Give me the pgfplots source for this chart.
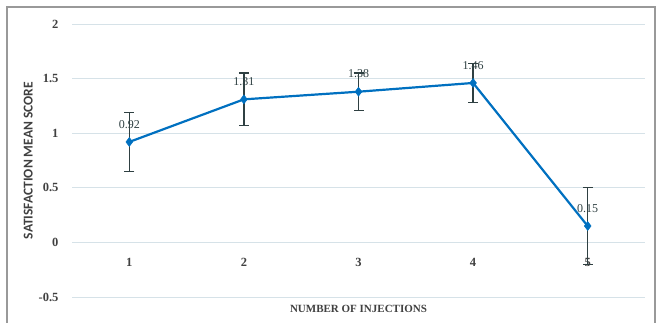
\documentclass[border=0pt]{standalone}
\usepackage{fontspec}
\setmainfont{Liberation Serif}
\newfontfamily\ylabfont{Carlito}
\usepackage{pgfplots}
\pgfplotsset{compat=1.18}
\definecolor{lineblue}{RGB}{0,112,192}
\definecolor{errgray}{RGB}{47,64,66}
\definecolor{gridc}{RGB}{214,226,232}
\definecolor{txt}{RGB}{64,64,64}
\begin{document}
\begin{tikzpicture}
\begin{axis}[
  at={(72pt,26pt)}, anchor=south west,
  scale only axis, width=573pt, height=273pt,
  xmin=0.5, xmax=5.5, ymin=-0.5, ymax=2,
  axis line style={draw=none},
  ytick={-0.5,0,0.5,1,1.5,2},
  yticklabels={-0.5,0,0.5,1,1.5,2},
  xtick={1,2,3,4,5},
  xticklabels={1,2,3,4,5},
  major tick length=0pt,
  ymajorgrids, grid style={gridc, line width=0.9pt},
  tick label style={font=\fontsize{12.5}{13}\selectfont\bfseries, text=txt},
  xticklabel style={yshift=42pt},
  yticklabel style={xshift=-10pt},
  xlabel={NUMBER OF INJECTIONS},
  xlabel style={font=\fontsize{11}{12}\selectfont\bfseries, text=txt, yshift=-5pt},
  ylabel={SATISFACTION MEAN SCORE},
  ylabel style={font=\ylabfont\fontsize{13.5}{14}\selectfont\bfseries, text=txt, yshift=-1pt},
  clip=false,
]
\addplot[
  lineblue, line width=2.2pt,
  mark=diamond*, mark size=4.5pt, mark options={fill=lineblue, line width=0.5pt},
  error bars/.cd, y dir=both, y explicit,
  error bar style={errgray, line width=1.4pt},
  error mark options={rotate=90, mark size=5pt, errgray, line width=1.4pt},
] coordinates {
  (1,0.92) +- (0,0.27)
  (2,1.31) +- (0,0.24)
  (3,1.38) +- (0,0.17)
  (4,1.46) +- (0,0.18)
  (5,0.15) +- (0,0.35)
};
\addplot[
  draw=none, mark=none,
  nodes near coords,
  point meta=explicit symbolic,
  every node near coord/.append style={font=\fontsize{12}{13}\selectfont, text=errgray, anchor=south, yshift=10pt},
] coordinates {
  (1,0.92) [0.92]
  (2,1.31) [1.31]
  (3,1.38) [1.38]
  (4,1.46) [1.46]
  (5,0.15) [0.15]
};
\end{axis}
\draw[gray!80, line width=1.3pt] (7pt,-20pt) -- (7pt,316pt) -- (655pt,316pt) -- (655pt,-20pt);
\pgfresetboundingbox
\useasboundingbox (0,0) rectangle (658pt,323pt);
\end{tikzpicture}
\end{document}
